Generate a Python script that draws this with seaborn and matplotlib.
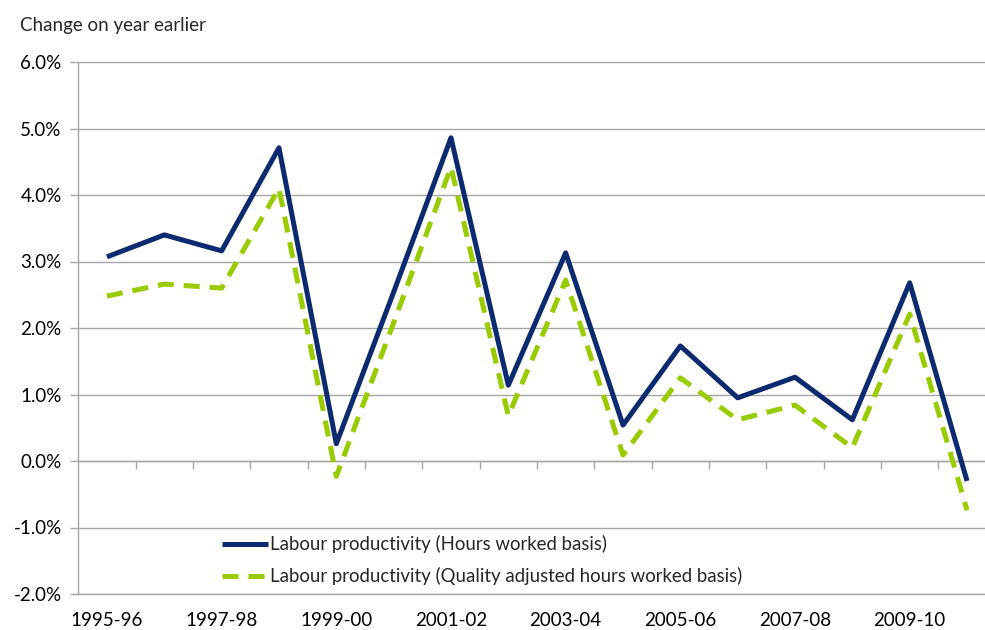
import matplotlib
matplotlib.use("Agg")
import matplotlib.pyplot as plt
import seaborn as sns
import pandas as pd
import numpy as np
from matplotlib.ticker import FuncFormatter

years = ["1995-96", "1996-97", "1997-98", "1998-99", "1999-00", "2000-01",
         "2001-02", "2002-03", "2003-04", "2004-05", "2005-06", "2006-07",
         "2007-08", "2008-09", "2009-10", "2010-11"]
hours_basis = [3.07, 3.40, 3.16, 4.71, 0.26, 2.54, 4.86, 1.14, 3.13, 0.54,
               1.73, 0.95, 1.26, 0.62, 2.68, -0.30]
quality_basis = [2.48, 2.66, 2.60, 4.10, -0.23, 2.08, 4.42, 0.68, 2.72, 0.09,
                 1.25, 0.62, 0.84, 0.20, 2.21, -0.74]
series_names = ["Labour productivity (Hours worked basis)",
                "Labour productivity (Quality adjusted hours worked basis)"]
y_label = "Change on year earlier"

df = pd.DataFrame({
    "idx": list(range(len(years))) * 2,
    "value": hours_basis + quality_basis,
    "series": [series_names[0]] * len(years) + [series_names[1]] * len(years),
})

sns.set_style("white")
plt.rcParams['font.family'] = ['Lato', 'DejaVu Sans']

W, H = 985, 630
fig = plt.figure(figsize=(W / 100, H / 100), dpi=100)
left_px, right_px, top_px, bot_px = 78.3, 995.7, 62, 594
ax = fig.add_axes([left_px / W, 1 - bot_px / H, (right_px - left_px) / W, (bot_px - top_px) / H])

grid_c = "#A6A6A6"
navy = "#0B2A6F"
green = "#99CC00"

sns.lineplot(data=df, x="idx", y="value", hue="series", style="series",
             palette=[navy, green], dashes=[(1, 0), (3.2, 2.0)],
             linewidth=3.6, ax=ax, legend=True, sort=False)

ax.set_xlim(-0.5, len(years) - 0.5)
ax.set_ylim(-2.0, 6.0)
ax.set_yticks(np.arange(-2, 6.01, 1))
ax.yaxis.set_major_formatter(FuncFormatter(lambda v, p: f"{v:.1f}%"))
ax.yaxis.grid(True, color=grid_c, linewidth=1.0)
ax.set_axisbelow(True)
ax.tick_params(axis='y', left=True, length=6, width=1, color=grid_c,
               labelsize=13.5, pad=6, labelcolor="black")

ax.set_xticks(range(0, len(years), 2))
ax.set_xticklabels(years[::2])
ax.tick_params(axis='x', bottom=False, length=0, labelsize=13.5, pad=13, labelcolor="black")
ax.set_xlabel("")
ax.set_ylabel("")

for s in ["top", "right"]:
    ax.spines[s].set_visible(False)
ax.spines["left"].set_color(grid_c)
ax.spines["bottom"].set_color(grid_c)
ax.spines["left"].set_linewidth(1.0)
ax.spines["bottom"].set_linewidth(1.0)

# category axis crossing at zero with ticks between categories
sec = ax.secondary_xaxis(2.0 / 8.0)
sec.set_xticks(np.arange(0.5, len(years) - 0.5, 1.0))
sec.tick_params(axis='x', direction='out', length=6, width=1, color=grid_c, labelbottom=False, labeltop=False,
                bottom=True, top=False)
sec.spines["bottom"].set_color(grid_c)
sec.spines["bottom"].set_linewidth(1.0)
sec.spines["top"].set_visible(False)

leg = ax.legend(loc="lower left", bbox_to_anchor=(216 / W, 1 - 591 / H),
                bbox_transform=fig.transFigure, frameon=True, fancybox=False,
                facecolor="white", edgecolor="white", framealpha=1.0,
                fontsize=13.4, handlelength=2.5, handletextpad=0.1,
                labelspacing=0.75, borderpad=0.3, borderaxespad=0)
leg.get_frame().set_linewidth(0)
leg.set_zorder(5)

fig.text(20 / W, 1 - 25 / H, y_label, fontsize=13.5, ha="left", va="center")

fig.savefig("out.png", dpi=100)
